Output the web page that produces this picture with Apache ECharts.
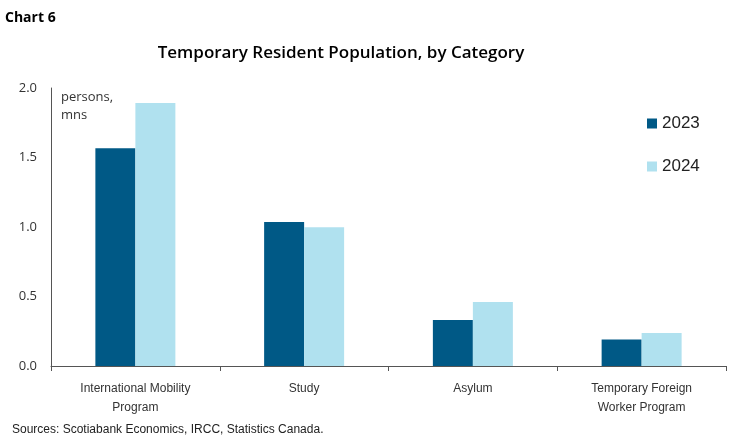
<!DOCTYPE html>
<html><head><meta charset="utf-8">
<script src="https://cdn.jsdelivr.net/npm/echarts@6/dist/echarts.min.js"></script>
<style>html,body{margin:0;padding:0;background:#fff}#c{width:750px;height:445px}</style>
</head><body><div id="c"></div>
<script>
var categories = ['International Mobility\nProgram', 'Study', 'Asylum', 'Temporary Foreign\nWorker Program'];
var values2023 = [1.566, 1.036, 0.331, 0.19];
var values2024 = [1.892, 0.998, 0.46, 0.237];
var yTicks = [0, 0.5, 1.0, 1.5, 2.0];
var narrow = '"Liberation Sans Narrow", "Liberation Sans", Arial, sans-serif';
var chart = echarts.init(document.getElementById('c'));
chart.setOption({
  animation: false,
  title: [
    {text: 'Chart 6', left: 0, top: 6, textStyle: {fontFamily: '"Open Sans", sans-serif', fontWeight: 'bold', fontSize: 14, color: '#000'}},
    {text: 'Temporary Resident Population, by Category', left: 336, textAlign: 'center', top: 40, textStyle: {fontFamily: '"Open Sans", sans-serif', fontWeight: 600, fontSize: 17, color: '#000'}},
    {text: 'persons,\nmns', left: 56, top: 83, textStyle: {fontFamily: '"Open Sans", sans-serif', fontWeight: 'normal', fontSize: 13, color: '#333', lineHeight: 18}},
    {text: 'Sources: Scotiabank Economics, IRCC, Statistics Canada.', left: 7, top: 419, textStyle: {fontFamily: narrow, fontWeight: 'normal', fontSize: 12, color: '#222'}}
  ],
  legend: {
    orient: 'vertical', left: 642, top: 110, itemWidth: 10, itemHeight: 10, itemGap: 26,
    icon: 'rect',
    textStyle: {fontFamily: '"Liberation Sans", Arial, sans-serif', fontSize: 17, color: '#222'},
    data: ['2023', '2024']
  },
  grid: {left: 51, right: 24, top: 88, bottom: 79},
  xAxis: {
    type: 'category', data: categories,
    axisLine: {lineStyle: {color: '#555', width: 1}},
    axisTick: {show: true, length: 5, lineStyle: {color: '#555'}},
    axisLabel: {fontFamily: narrow, fontSize: 12, color: '#333', margin: 13, lineHeight: 19}
  },
  yAxis: {
    type: 'value', min: yTicks[0], max: yTicks[yTicks.length - 1], interval: 0.5,
    axisLine: {show: true, lineStyle: {color: '#555', width: 1}},
    axisTick: {show: false},
    splitLine: {show: false},
    axisLabel: {fontFamily: '"Open Sans", sans-serif', fontSize: 13, color: '#333', margin: 14, formatter: function (v) { return v.toFixed(1); }}
  },
  series: [
    {name: '2023', type: 'bar', data: values2023, barWidth: 40, barGap: '0%', itemStyle: {color: '#005986'}},
    {name: '2024', type: 'bar', data: values2024, barWidth: 40, barGap: '0%', itemStyle: {color: '#b0e1ef'}}
  ]
});
</script></body></html>
